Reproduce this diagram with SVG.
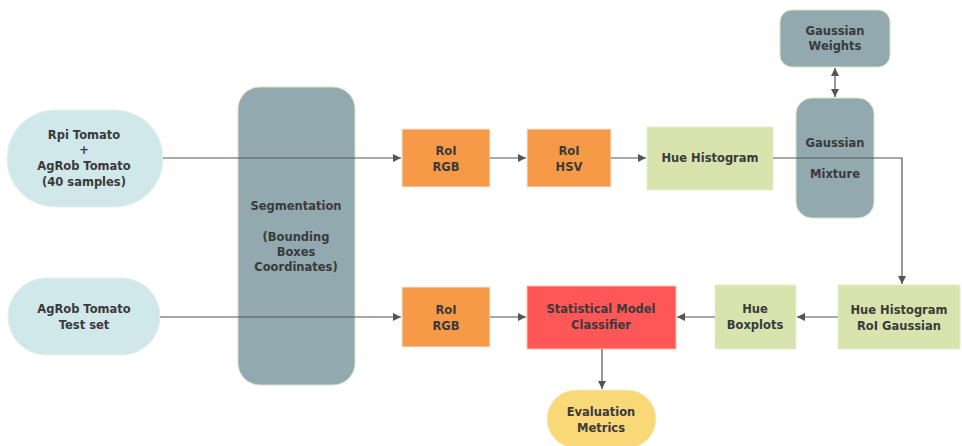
<svg xmlns="http://www.w3.org/2000/svg" width="962" height="446" viewBox="0 0 962 446">
<defs>
<style>
text{font-family:"DejaVu Sans","Liberation Sans",sans-serif;font-size:11.5px;font-weight:bold;fill:#3a3a3a;text-anchor:middle}
.pill{fill:#d0e8ea;stroke:#e4f1f2;stroke-width:1}
.gray{fill:#91a9af;stroke:#d6e4c0;stroke-width:1}
.orange{fill:#f69a47;stroke:#e8e8e8;stroke-width:1}
.green{fill:#d8e3ae;stroke:#e8eed0;stroke-width:1}
.red{fill:#ff5757;stroke:#f3c6a8;stroke-width:1}
.yellow{fill:#f9d977;stroke:#f7ecc0;stroke-width:1}
.con{fill:none;stroke:#555;stroke-width:1.2}
</style>
<marker id="ah" viewBox="0 0 10 10" refX="10" refY="5" markerWidth="8" markerHeight="8" markerUnits="userSpaceOnUse" orient="auto-start-reverse">
<path d="M0,0 L10,5 L0,10 z" fill="#555"/>
</marker>
</defs>
<rect width="962" height="446" fill="#fff"/>
<g id="n-train">
<rect class="pill" x="7" y="110" width="156" height="97" rx="48"/>
<text x="84" y="139">Rpi Tomato</text>
<text x="84" y="154">+</text>
<text x="84" y="170">AgRob Tomato</text>
<text x="84" y="186">(40 samples)</text>
</g>
<g id="n-test">
<rect class="pill" x="8" y="278" width="152" height="77" rx="38"/>
<text x="84" y="313">AgRob Tomato</text>
<text x="84" y="329">Test set</text>
</g>
<g id="n-seg">
<rect class="gray" x="238" y="87" width="117" height="298" rx="22"/>
<text x="296" y="210">Segmentation</text>
<text x="296" y="241">(Bounding</text>
<text x="296" y="256">Boxes</text>
<text x="296" y="271">Coordinates)</text>
</g>
<g id="n-rgb1">
<rect class="orange" x="402" y="129" width="88" height="58"/>
<text x="446" y="155">RoI</text>
<text x="446" y="171">RGB</text>
</g>
<g id="n-hsv">
<rect class="orange" x="527" y="129" width="84" height="58"/>
<text x="569" y="155">RoI</text>
<text x="569" y="171">HSV</text>
</g>
<g id="n-hist">
<rect class="green" x="647" y="127" width="126" height="63"/>
<text x="710" y="162">Hue Histogram</text>
</g>
<g id="n-gw">
<rect class="gray" x="780" y="10" width="110" height="57" rx="12"/>
<text x="835" y="35">Gaussian</text>
<text x="835" y="50">Weights</text>
</g>
<g id="n-gm">
<rect class="gray" x="796" y="98" width="78" height="120" rx="16"/>
<text x="835" y="147">Gaussian</text>
<text x="835" y="178">Mixture</text>
</g>
<g id="n-rgb2">
<rect class="orange" x="402" y="287" width="88" height="60"/>
<text x="446" y="314">RoI</text>
<text x="446" y="330">RGB</text>
</g>
<g id="n-stat">
<rect class="red" x="527" y="286" width="149" height="63"/>
<text x="601" y="313">Statistical Model</text>
<text x="601" y="329">Classifier</text>
</g>
<g id="n-box">
<rect class="green" x="715" y="285" width="81" height="64"/>
<text x="755" y="313">Hue</text>
<text x="755" y="329">Boxplots</text>
</g>
<g id="n-hrg">
<rect class="green" x="838" y="285" width="122" height="64"/>
<text x="899" y="314">Hue Histogram</text>
<text x="899" y="330">RoI Gaussian</text>
</g>
<g id="n-eval">
<rect class="yellow" x="547" y="390" width="109" height="58" rx="29"/>
<text x="601" y="416">Evaluation</text>
<text x="601" y="432">Metrics</text>
</g>
<g id="connectors">
<path class="con" d="M163,158 H401" marker-end="url(#ah)"/>
<path class="con" d="M490,158 H526" marker-end="url(#ah)"/>
<path class="con" d="M611,158 H646" marker-end="url(#ah)"/>
<path class="con" d="M773,158 H902 V284" marker-end="url(#ah)"/>
<path class="con" d="M835,68 V97" marker-start="url(#ah)" marker-end="url(#ah)"/>
<path class="con" d="M160,317 H401" marker-end="url(#ah)"/>
<path class="con" d="M490,317 H526" marker-end="url(#ah)"/>
<path class="con" d="M715,317 H677" marker-end="url(#ah)"/>
<path class="con" d="M838,317 H797" marker-end="url(#ah)"/>
<path class="con" d="M602,349 V389" marker-end="url(#ah)"/>
</g>
</svg>
